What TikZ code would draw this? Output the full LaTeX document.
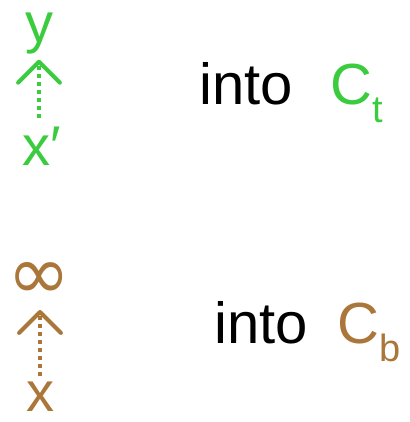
\documentclass[tikz,border=0pt]{standalone}
\usepackage{fontspec}
\setmainfont{Liberation Sans}
\newfontfamily\symfont{DejaVu Sans}
\usetikzlibrary{arrows.meta,positioning}
\definecolor{topcol}{RGB}{58,204,62}
\definecolor{botcol}{RGB}{170,118,58}
\newcommand{\lowsub}[1]{\raisebox{-18pt}{\fontsize{38}{40}\selectfont #1}}
\tikzset{
  pt/.style={inner sep=0pt,anchor=base,font=\fontsize{56}{60}\selectfont},
  word/.style={inner sep=0pt,anchor=base west,font=\fontsize{58}{62}\selectfont},
  lift/.style={line width=4pt,dash pattern=on 4pt off 4pt},
}
\begin{document}
\begin{tikzpicture}[x=1pt,y=-1pt]
  \useasboundingbox (0,0) rectangle (409,422);
  % top pair
  \node[pt,text=topcol] (y) at (39,43) {y};
  \node[pt,text=topcol] (xp) at (42,165) {x′};
  \draw[lift,draw=topcol,shorten <=8pt,shorten >=5pt,-{Straight Barb[scale=2.2,round]}] (y.south |- xp.north) -- (y.south);
  \node[word] (intot) at (199,105) {into\hspace{38pt}\textcolor{topcol}{C\lowsub{t}}};
  % bottom pair
  \node[inner sep=0pt,text=botcol,font=\symfont\fontsize{76}{80}\selectfont] (inf) at (39,281) {∞};
  \node[pt,text=botcol] (x) at (40,411) {x};
  \draw[lift,draw=botcol,shorten <=5pt,-{Straight Barb[scale=2.2,round]}] (x.north) -- (x.north |- 0,310);
  \node[word] (intob) at (214,343) {into\hspace{30pt}\textcolor{botcol}{C\lowsub{b}}};
\end{tikzpicture}
\end{document}
